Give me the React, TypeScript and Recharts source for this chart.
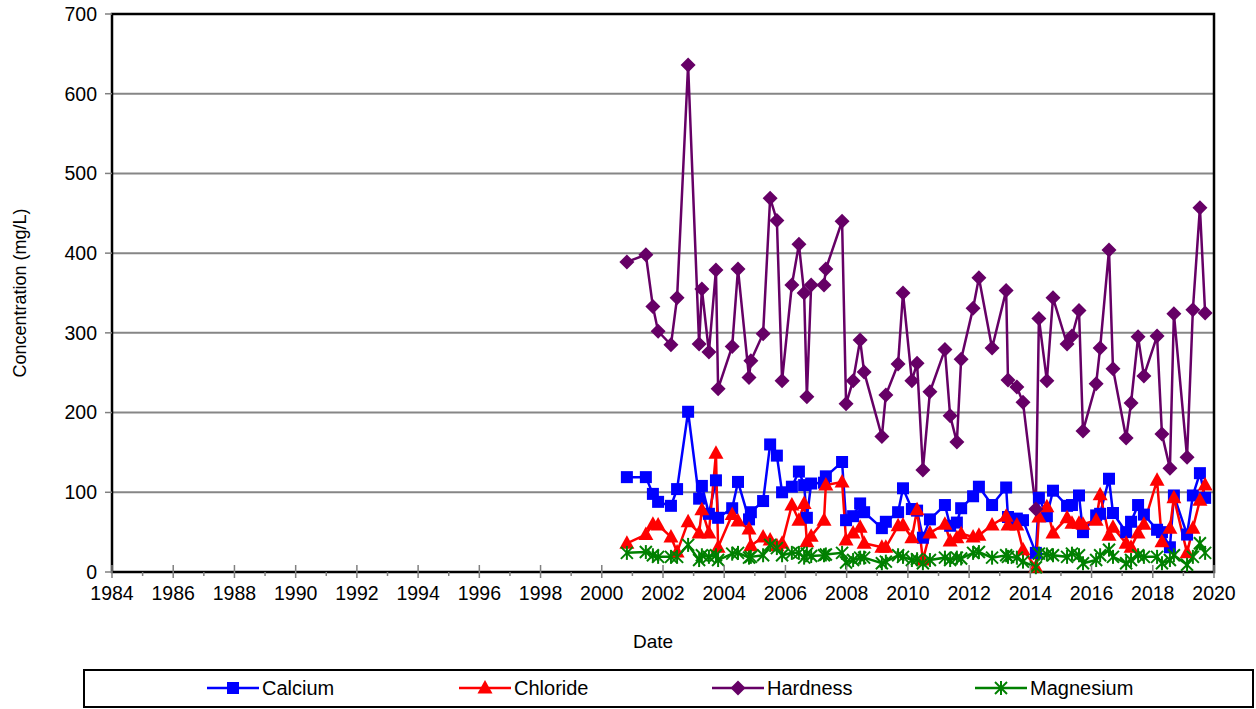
import { CartesianGrid, Line, LineChart, ReferenceArea, XAxis, YAxis } from "recharts";

// sampling dates as decimal years
const sampleDates = [
  2000.82, 2001.44, 2001.67, 2001.84, 2002.26, 2002.46, 2002.82, 2003.18, 2003.27, 2003.5,
  2003.73, 2003.8, 2004.26, 2004.45, 2004.81, 2004.87, 2005.27, 2005.5, 2005.72, 2005.89,
  2006.21, 2006.44, 2006.61, 2006.7, 2006.84, 2007.26, 2007.32, 2007.85, 2007.98, 2008.21,
  2008.44, 2008.57, 2009.15, 2009.28, 2009.68, 2009.84, 2010.13, 2010.3, 2010.49, 2010.72,
  2011.21, 2011.38, 2011.6, 2011.74, 2012.13, 2012.32, 2012.75, 2013.21, 2013.27, 2013.56,
  2013.76, 2014.18, 2014.28, 2014.54, 2014.74, 2015.2, 2015.36, 2015.59, 2015.72, 2016.15,
  2016.28, 2016.57, 2016.7, 2017.13, 2017.29, 2017.52, 2017.71, 2018.14, 2018.3, 2018.56,
  2018.69, 2019.12, 2019.31, 2019.54, 2019.71,
];

const calcium = [
  119, 119, 98, 88, 83, 104, 201, 92, 108, 73,
  115, 68, 80, 113, 66, 75, 89, 160, 146, 100,
  107, 126, 109, 68, 111, 112, 120, 138, 65, 70,
  86, 75, 55, 63, 75, 105, 79, 77, 43, 66,
  84, 58, 62, 80, 95, 107, 84, 106, 69, 67,
  65, 24, 93, 70, 102, 83, 84, 96, 50, 71,
  73, 117, 74, 50, 63, 84, 72, 53, 50, 31,
  96, 47, 96, 124, 93,
];

const chloride = [
  36, 47, 60, 59, 44, 25, 63, 49, 78, 49,
  149, 31, 72, 64, 54, 33, 44, 40, 33, 36,
  84, 65, 86, 38, 45, 65, 109, 113, 40, 49,
  56, 36, 31, 31, 58, 59, 43, 78, 15, 49,
  60, 39, 43, 48, 44, 46, 59, 70, 59, 59,
  28, 6, 69, 82, 49, 68, 61, 61, 60, 65,
  97, 46, 56, 36, 31, 49, 60, 115, 38, 55,
  93, 24, 55, 90, 109,
];

const hardness = [
  389, 398, 333, 302, 285, 344, 636, 286, 355, 276,
  379, 230, 283, 380, 244, 265, 299, 469, 441, 240,
  360, 411, 350, 220, 360, 360, 380, 440, 211, 240,
  291, 251, 170, 222, 261, 350, 240, 262, 128, 226,
  279, 196, 163, 267, 331, 369, 281, 353, 241, 232,
  213, 79, 318, 240, 344, 286, 296, 328, 177, 236,
  281, 404, 255, 168, 212, 295, 246, 296, 173, 130,
  324, 144, 329, 457, 325,
];

const magnesium = [
  24, 25, 21, 19, 19, 19, 34, 15, 21, 19,
  21, 15, 23, 24, 18, 19, 21, 34, 30, 21,
  24, 24, 18, 23, 20, 21, 22, 24, 12, 15,
  18, 18, 11, 13, 21, 19, 15, 16, 11, 15,
  18, 15, 18, 17, 24, 25, 18, 21, 19, 18,
  13, 6, 23, 22, 21, 19, 23, 21, 11, 15,
  21, 28, 19, 11, 15, 21, 19, 19, 11, 15,
  21, 9, 19, 36, 24,
];

const yearLabels = [
  1984, 1986, 1988, 1990, 1992, 1994, 1996, 1998, 2000, 2002, 2004, 2006, 2008, 2010, 2012,
  2014, 2016, 2018, 2020,
];
const concentrationTicks = [0, 100, 200, 300, 400, 500, 600, 700];

// one minor tick per year between the labelled ones
const yearTicks = yearLabels.flatMap((y, i) => (i < yearLabels.length - 1 ? [y, y + 1] : [y]));

const data = sampleDates.map((date, i) => ({
  date,
  calcium: calcium[i],
  chloride: chloride[i],
  hardness: hardness[i],
  magnesium: magnesium[i],
}));

type MarkerKind = "square" | "triangle" | "diamond" | "star";

const series: { key: string; name: string; color: string; marker: MarkerKind }[] = [
  { key: "calcium", name: "Calcium", color: "#0000ff", marker: "square" },
  { key: "chloride", name: "Chloride", color: "#ff0000", marker: "triangle" },
  { key: "hardness", name: "Hardness", color: "#660066", marker: "diamond" },
  { key: "magnesium", name: "Magnesium", color: "#008000", marker: "star" },
];

const FONT = '"Liberation Sans", Arial, sans-serif';
const GRID = "#868686";

function Marker({ kind, cx, cy, color }: { kind: MarkerKind; cx: number; cy: number; color: string }) {
  if (kind === "square") {
    return <rect x={cx - 6} y={cy - 6} width={12} height={12} fill={color} />;
  }
  if (kind === "triangle") {
    return <polygon points={`${cx},${cy - 8} ${cx + 7.5},${cy + 5.5} ${cx - 7.5},${cy + 5.5}`} fill={color} />;
  }
  if (kind === "diamond") {
    return <polygon points={`${cx},${cy - 7.5} ${cx + 7.5},${cy} ${cx},${cy + 7.5} ${cx - 7.5},${cy}`} fill={color} />;
  }
  const r = 6;
  return (
    <g stroke={color} strokeWidth={2}>
      <line x1={cx - r} y1={cy - r} x2={cx + r} y2={cy + r} />
      <line x1={cx - r} y1={cy + r} x2={cx + r} y2={cy - r} />
      <line x1={cx} y1={cy - r - 1} x2={cx} y2={cy + r + 1} />
    </g>
  );
}

function YearTick({ x, y, payload }: any) {
  const year = payload.value as number;
  const major = year % 2 === 0;
  return (
    <g>
      <line
        x1={x}
        x2={x}
        y1={major ? y - 7 : y}
        y2={y + (major ? 6 : 4)}
        stroke="#808080"
        strokeWidth={1.5}
      />
      {major && (
        <text x={x} y={y + 14} dy="0.71em" textAnchor="middle" fontSize={19.5} fill="#000" fontFamily={FONT}>
          {year}
        </text>
      )}
    </g>
  );
}

const legendLeft = [207, 459, 712, 975];

function ChartLegend() {
  return (
    <>
      <div
        style={{
          position: "absolute",
          left: 83,
          top: 669,
          width: 1171,
          height: 39,
          border: "2.5px solid #000",
          boxSizing: "border-box",
        }}
      />
      {series.map((s, i) => (
        <div
          key={s.key}
          style={{
            position: "absolute",
            left: legendLeft[i],
            top: 677,
            height: 22,
            display: "flex",
            alignItems: "center",
            fontSize: 20,
            lineHeight: "22px",
            color: "#000",
          }}
        >
          <svg width={52} height={22}>
            <line x1={0} x2={52} y1={11} y2={11} stroke={s.color} strokeWidth={2.5} />
            <Marker kind={s.marker} cx={26} cy={11} color={s.color} />
          </svg>
          <span style={{ marginLeft: 3 }}>{s.name}</span>
        </div>
      ))}
    </>
  );
}

export default function App() {
  return (
    <div
      style={{
        position: "absolute",
        left: 0,
        top: 0,
        width: 1256,
        height: 709,
        background: "#fff",
        fontFamily: FONT,
      }}
    >
      <LineChart width={1256} height={709} data={data} margin={{ top: 14, right: 42, left: 0, bottom: 0 }}>
        <CartesianGrid vertical={false} stroke={GRID} strokeWidth={2} />
        <XAxis
          dataKey="date"
          type="number"
          domain={[1984, 2020]}
          ticks={yearTicks}
          interval={0}
          height={137}
          tickSize={0}
          tickMargin={0}
          axisLine={false}
          tickLine={false}
          tick={<YearTick />}
          label={{ value: "Date", position: "center", dx: -10, dy: 1, fontSize: 19, fill: "#000", fontFamily: FONT }}
        />
        <YAxis
          type="number"
          domain={[0, 700]}
          ticks={concentrationTicks}
          width={112}
          tickSize={7}
          tickMargin={8}
          axisLine={false}
          tickLine={{ stroke: "#808080", strokeWidth: 1.5 }}
          tick={{ fontSize: 19.5, fill: "#000", fontFamily: FONT }}
          label={{
            value: "Concentration (mg/L)",
            angle: -90,
            position: "center",
            dx: -36,
            fontSize: 18,
            fill: "#000",
            fontFamily: FONT,
          }}
        />
        <ReferenceArea x1={1984} x2={2020} y1={0} y2={700} fill="none" stroke="#000" strokeWidth={2.5} />
        {series.map((s) => (
          <Line
            key={s.key}
            dataKey={s.key}
            name={s.name}
            type="linear"
            stroke={s.color}
            strokeWidth={2.5}
            isAnimationActive={false}
            activeDot={false}
            dot={(p: any) => <Marker key={`${s.key}-${p.index}`} kind={s.marker} cx={p.cx} cy={p.cy} color={s.color} />}
          />
        ))}
      </LineChart>
      <ChartLegend />
    </div>
  );
}
